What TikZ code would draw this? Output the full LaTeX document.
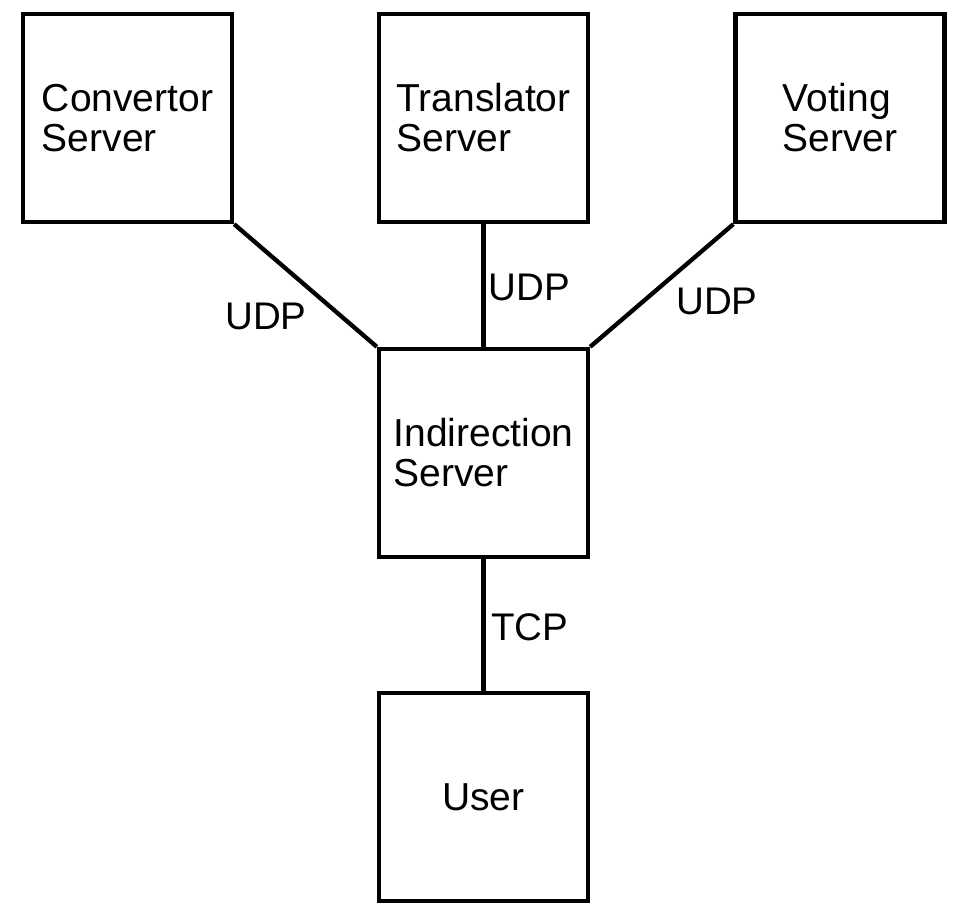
\documentclass[tikz,border=0pt]{standalone}
\usepackage{fontspec}
\setmainfont{Liberation Sans}
\begin{document}
\begin{tikzpicture}[x=1pt,y=-1pt,
  srv/.style={draw, line width=4.3pt, minimum width=209pt, minimum height=208pt, inner sep=0pt, align=left, font=\fontsize{39}{40}\selectfont},
  lbl/.style={anchor=base, inner sep=0pt, font=\fontsize{38.5}{40}\selectfont},
  link/.style={line width=4.3pt}]
\useasboundingbox (0,0) rectangle (972,923);
\node[srv] (conv) at (127.5,118) {Convertor\\Server};
\node[srv] (trans) at (483.5,118) {Translator\\Server};
\node[srv] (vote) at (840,118) {Voting\\Server};
\node[srv] (ind) at (483.5,453) {Indirection\\Server};
\node[srv] (user) at (483.5,797) {User};
\draw[link] (conv.south east) -- (ind.north west);
\draw[link] (trans.south) -- (ind.north);
\draw[link] (vote.south west) -- (ind.north east);
\draw[link] (ind.south) -- (user.north);
\node[lbl] (l1) at (266,329) {UDP};
\node[lbl] (l2) at (529.5,300) {UDP};
\node[lbl] (l3) at (717,314) {UDP};
\node[lbl] (l4) at (529.5,640) {TCP};
\end{tikzpicture}
\end{document}
